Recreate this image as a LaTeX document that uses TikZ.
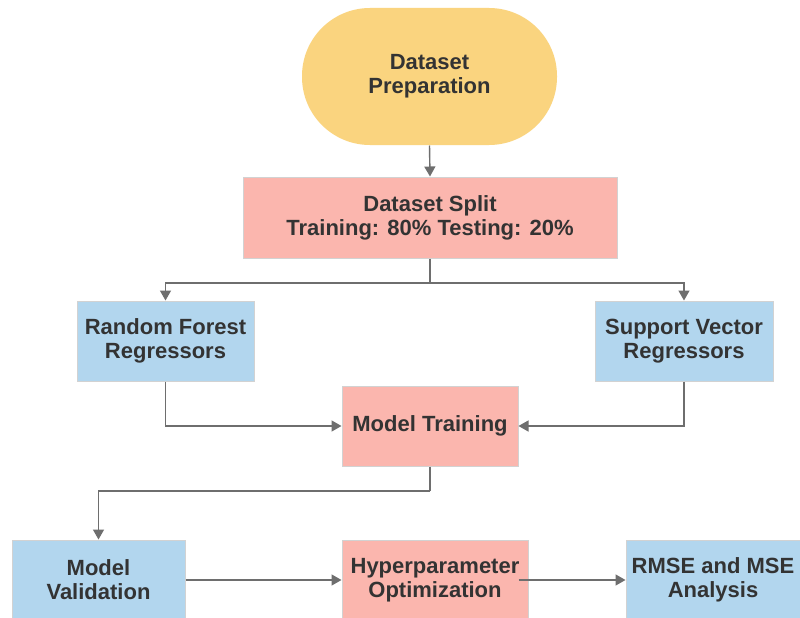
\documentclass[tikz,border=0pt]{standalone}
\usepackage{fontspec}
\setmainfont{Liberation Sans}
\usetikzlibrary{arrows.meta}
\definecolor{cyell}{HTML}{FAD47F}
\definecolor{cpink}{HTML}{FBB6AE}
\definecolor{cblue}{HTML}{B2D6EE}
\definecolor{ctext}{HTML}{333333}
\definecolor{cline}{HTML}{6E6E6E}
\definecolor{cbord}{HTML}{D2D2D2}
\tikzset{
  box/.style={draw=cbord, line width=1pt, align=center, text=ctext,
    font=\fontsize{22}{24}\selectfont\bfseries, inner sep=0pt},
  pinkbox/.style={box, fill=cpink},
  bluebox/.style={box, fill=cblue},
  stadium/.style={box, draw=none, fill=cyell, rounded corners=68pt},
  conn/.style={draw=cline, line width=1.4pt},
  arr/.style={conn, -{Triangle[length=10pt,width=11pt]}}
}
\begin{document}
\begin{tikzpicture}[x=1pt,y=-1pt]
\useasboundingbox[fill=white] (0,0) rectangle (800,618);
\node[stadium, minimum width=255pt, minimum height=137pt] (prep) at (429.5,76.5) {Dataset\\Preparation};
\node[pinkbox, minimum width=374pt, minimum height=81pt] (split) at (430,217.5) {Dataset Split\\Training: 80\% Testing: 20\%};
\node[bluebox, minimum width=177pt, minimum height=80pt] (rf) at (165.5,341) {Random Forest\\Regressors};
\node[bluebox, minimum width=178pt, minimum height=80pt] (svr) at (684,341) {Support Vector\\Regressors};
\node[pinkbox, minimum width=176pt, minimum height=80pt] (mt) at (430,426) {Model Training};
\node[bluebox, minimum width=173pt, minimum height=80pt] (mv) at (98.5,580) {Model\\Validation};
\node[pinkbox, minimum width=186pt, minimum height=80pt] (ho) at (435,580) {Hyperparameter\\Optimization};
\node[bluebox, minimum width=174pt, minimum height=80pt] (rmse) at (713,580) {RMSE and MSE\\Analysis};
\coordinate (j) at (430,283);
\coordinate (k) at (430,491);
\draw[arr] (prep.south) -- (split.north);
\draw[conn] (split.south) -- (j);
\draw[arr] (j) -| (rf.north);
\draw[arr] (j) -| (svr.north);
\draw[arr] (rf.south) |- (mt.west);
\draw[arr] (svr.south) |- (mt.east);
\draw[conn] (mt.south) -- (k);
\draw[arr] (k) -| (mv.north);
\draw[arr] (mv.east) -- (ho.west);
\draw[arr] ([xshift=-10pt]ho.east) -- (rmse.west);
\end{tikzpicture}
\end{document}
